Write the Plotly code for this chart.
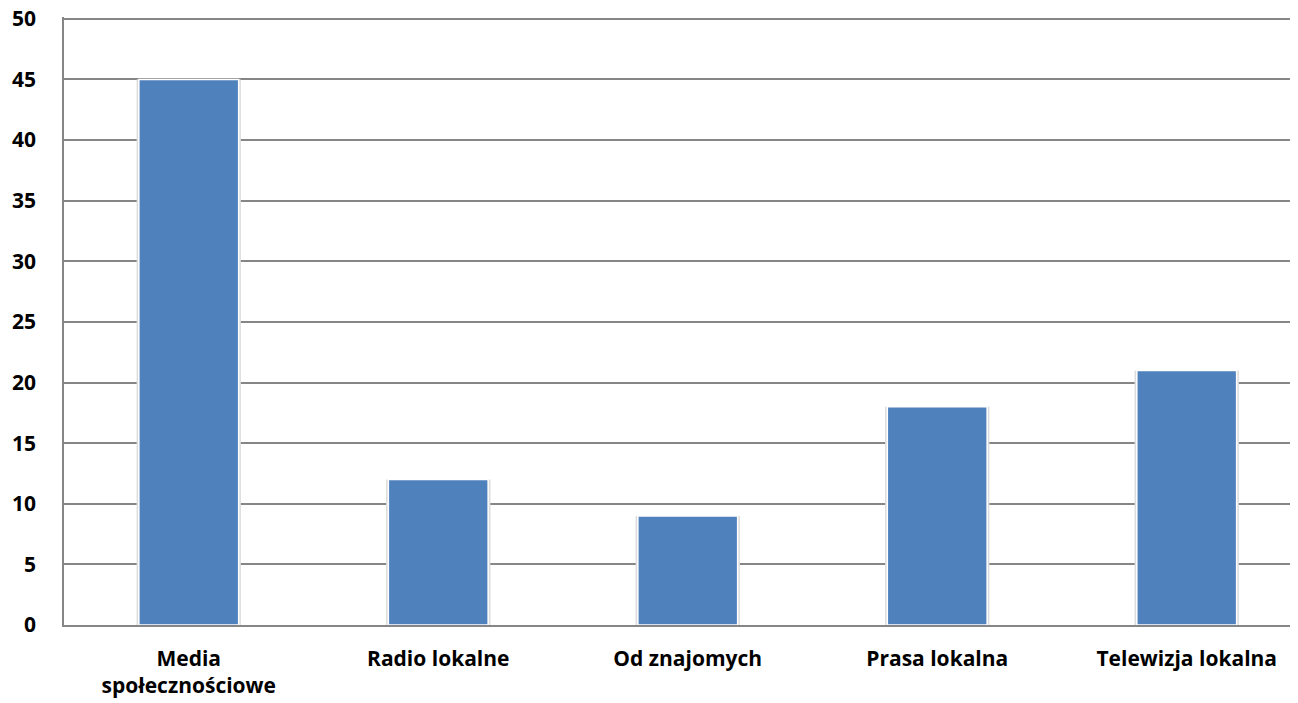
import plotly.graph_objects as go

categories = ["Media<br>społecznościowe", "Radio lokalne", "Od znajomych", "Prasa lokalna", "Telewizja lokalna"]
values = [45, 12, 9, 18, 21]
y_ticks = [0, 5, 10, 15, 20, 25, 30, 35, 40, 45, 50]

xs = list(range(len(categories)))

fig = go.Figure()
# soft shadow behind bars
fig.add_trace(go.Bar(
    x=xs, y=values, width=0.418,
    marker=dict(color="#dcdcdc", line=dict(width=0)),
    hoverinfo="skip",
))
fig.add_trace(go.Bar(
    x=xs, y=values, width=0.4,
    marker=dict(color="#4F81BD", line=dict(color="white", width=1.5)),
))

fam = "'Open Sans', sans-serif"

fig.update_layout(
    width=1290, height=695,
    margin=dict(l=56, r=0, t=9, b=78),
    paper_bgcolor="white", plot_bgcolor="white",
    showlegend=False,
    barmode="overlay",
    xaxis=dict(
        tickmode="array", tickvals=xs, ticktext=categories,
        range=[-0.5, 4.446],
        tickfont=dict(family=fam, size=21, color="#000", weight="bold"),
        showgrid=False, zeroline=False, automargin=False,
        showline=True, linecolor="#868686", linewidth=1.5,
        ticks="", ticklabelstandoff=14,
    ),
    yaxis=dict(
        range=[0, 50.15], tickvals=y_ticks,
        tickfont=dict(family=fam, size=21, color="#000", weight="bold"),
        showgrid=True, gridcolor="#868686", gridwidth=1.5,
        zeroline=False, automargin=False,
        showline=True, linecolor="#868686", linewidth=1.5,
        ticks="", ticklabelstandoff=22, ticklabeloverflow="allow",
    ),
)

fig.write_html("out.html")
